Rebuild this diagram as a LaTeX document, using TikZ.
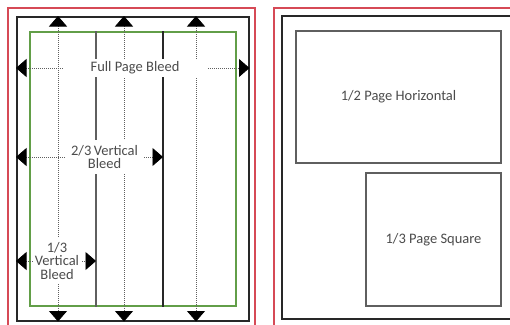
\documentclass[tikz,border=0pt]{standalone}
\usepackage{fontspec}
\setmainfont{Carlito}
\usetikzlibrary{arrows.meta,positioning}
\definecolor{adtrim}{RGB}{40,40,40}
\definecolor{adline}{RGB}{95,95,95}
\definecolor{adbleed}{RGB}{98,158,72}
\definecolor{adsafe}{RGB}{214,74,86}
\definecolor{adtext}{RGB}{75,75,75}
\tikzset{
  sheet/.style={draw=adsafe, line width=1.1pt},
  trim/.style={draw=adtrim, line width=1.5pt, inner sep=0pt},
  live/.style={draw=adbleed, line width=1.5pt, inner sep=0pt},
  col/.style={draw=adline, line width=1.2pt},
  unit/.style={
    draw=adline, line width=1.4pt, inner sep=0pt,
    text=adtext, font=\fontsize{14.5}{13.5}\selectfont, align=center
  },
  lbl/.style={
    fill=white, text=adtext, font=\fontsize{14.5}{13.5}\selectfont,
    align=center, inner sep=2pt
  },
  guide/.style={
    draw=adline, line width=0.8pt, dash pattern=on 1pt off 1pt,
    {Triangle[length=10.5pt,width=18pt,black]}-{Triangle[length=10.5pt,width=18pt,black]}
  }
}

\begin{document}
\begin{tikzpicture}[x=1pt, y=-1pt]
  \useasboundingbox (0,0) rectangle (510,324);
  \clip (0,0) rectangle (510,324);

  % left sheet: bleed sizes
  \draw[sheet] (8,340) -- (8,8) -- (255,8) -- (255,340);
  \node[trim, minimum width=232pt, minimum height=304pt, anchor=north west] (page) at (16,16) {};
  \node[live, minimum width=206pt, minimum height=274pt, anchor=north west] (live) at (29,31) {};
  \coordinate (third1) at (96,0);
  \coordinate (third2) at (163,0);
  \draw[col] (third1 |- live.north) -- (third1 |- live.south);
  \draw[col, draw=adtrim] (third2 |- live.north) -- (third2 |- live.south);

  \coordinate (g1) at (58,0);
  \coordinate (g2) at (124,0);
  \coordinate (g3) at (196,0);
  \foreach \g in {g1,g2,g3}
    \draw[guide] (\g |- page.north) -- (\g |- page.south);

  \coordinate (fullrow) at (0,68);
  \coordinate (twothirds) at (163,157);
  \coordinate (onethird) at (96,261);
  \draw[guide] (page.west |- fullrow) -- (page.east |- fullrow);
  \draw[guide] (page.west |- twothirds) -- (twothirds);
  \draw[guide] (page.west |- onethird) -- (onethird);

  \node[lbl, minimum width=144pt, minimum height=18pt] (full) at (135,68) {Full Page Bleed};
  \node[lbl, minimum width=77pt, inner ysep=5pt] (twolbl) at (104.5,157) {2/3\,Vertical\\Bleed};
  \node[lbl, minimum width=48pt, inner ysep=4pt] (onelbl) at (57,261) {1/3\\Vertical\\Bleed};

  % right sheet: trim sizes
  \draw[sheet] (274,340) -- (274,8) -- (520,8);
  \draw[trim] (520,319) -- (282,319) -- (282,16) -- (520,16);
  \node[unit, minimum width=205pt, minimum height=132pt] (half) at (398.5,97) {1/2 Page Horizontal};
  \node[unit, minimum width=135pt, minimum height=133pt] (square) at (433.5,239.5) {1/3 Page Square};
\end{tikzpicture}
\end{document}
